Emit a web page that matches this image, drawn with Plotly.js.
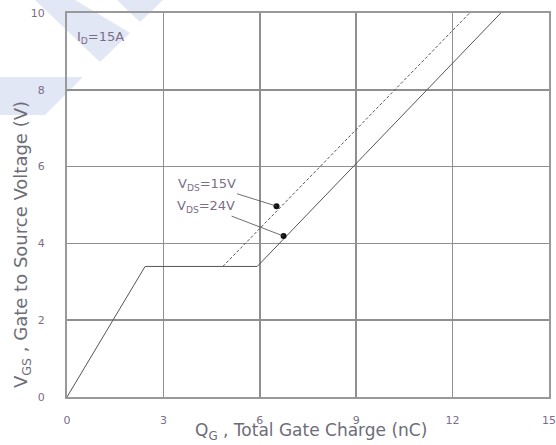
<!DOCTYPE html>
<html><head><meta charset="utf-8">
<script src="https://cdn.plot.ly/plotly-3.0.1.min.js"></script>
<style>html,body{margin:0;padding:0;background:#fff}</style>
</head><body>
<div id="chart" style="width:556px;height:445px"></div>
<script>
// Gate charge curves (Q in nC, V in volts)
const qBase = [0, 2.43, 5.92, 13.5];   // VDS = 24V full curve
const vBase = [0, 3.4, 3.4, 10];
const q15 = [4.85, 12.53];             // VDS = 15V rising branch
const v15 = [3.4, 10];
const dotQ = [6.52, 6.74];
const dotV = [4.97, 4.19];
const dotLabels = ['V<sub>DS</sub>=15V', 'V<sub>DS</sub>=24V'];
const xTicks = [0, 3, 6, 9, 12, 15];
const yTicks = [0, 2, 4, 6, 8, 10];
const xTitle = 'Q<sub>G</sub> , Total Gate Charge (nC)';
const yTitle = 'V<sub>GS</sub> , Gate to Source Voltage (V)';

const txtColor = '#7a6e88';
const lineColor = '#4a4a4a';
const gridColor = '#8f8f8f';
const fam = 'DejaVu Sans, Liberation Sans, sans-serif';

const traces = [
  {x: qBase, y: vBase, mode: 'lines', line: {color: '#555', width: 1}, hoverinfo: 'skip'},
  {x: q15, y: v15, mode: 'lines', line: {color: '#555', width: 1, dash: '3px,2px'}, hoverinfo: 'skip'},
  {x: dotQ, y: dotV, mode: 'markers', marker: {color: '#111', size: 6}, hoverinfo: 'skip'}
];

function px2paper(px, py) { return [(px - 67) / 482, (397 - py) / 384]; }
function poly(pts) {
  return pts.map((p, i) => { const c = px2paper(p[0], p[1]); return (i ? 'L' : 'M') + c[0].toFixed(4) + ',' + c[1].toFixed(4); }).join(' ') + ' Z';
}
const wm = '#e2e7f6';
const shapes = [
  {type: 'path', xref: 'paper', yref: 'paper', layer: 'below', fillcolor: wm, line: {width: 0},
   path: poly([[35,0],[75,0],[130,33],[100,62]])},
  {type: 'path', xref: 'paper', yref: 'paper', layer: 'below', fillcolor: wm, line: {width: 0},
   path: poly([[117,0],[163,0],[140,22]])},
  {type: 'path', xref: 'paper', yref: 'paper', layer: 'below', fillcolor: wm, line: {width: 0},
   path: poly([[0,77],[83,77],[45,115],[0,115]])}
];

const annOffsets = [[-70, -22], [-78, -30]];
const annotations = dotQ.map((q, i) => ({
  x: q, y: dotV[i], xref: 'x', yref: 'y', text: dotLabels[i],
  showarrow: true, arrowhead: 0, arrowwidth: 0.8, arrowcolor: lineColor, standoff: 0,
  ax: annOffsets[i][0], ay: annOffsets[i][1],
  font: {family: fam, size: 13, color: txtColor}
}));
annotations.push({
  xref: 'paper', yref: 'paper', x: 0.0166, y: 0.935, xanchor: 'left', yanchor: 'middle',
  text: 'I<sub>D</sub>=15A', showarrow: false,
  font: {family: fam, size: 13, color: txtColor}
});
// axis titles placed as in the reference
const c1 = px2paper(311, 431), c2 = px2paper(22, 245);
annotations.push({
  xref: 'paper', yref: 'paper', x: c1[0], y: c1[1], xanchor: 'center', yanchor: 'middle',
  text: xTitle, showarrow: false, font: {family: fam, size: 17, color: '#6d6d78'}
});
annotations.push({
  xref: 'paper', yref: 'paper', x: c2[0], y: c2[1], xanchor: 'center', yanchor: 'middle',
  text: yTitle, textangle: -90, showarrow: false, font: {family: fam, size: 18, color: '#6d6d78'}
});

const layout = {
  width: 556, height: 445,
  margin: {l: 67, r: 7, t: 13, b: 48},
  paper_bgcolor: 'rgba(0,0,0,0)', plot_bgcolor: 'rgba(0,0,0,0)',
  showlegend: false,
  font: {family: fam, color: txtColor},
  xaxis: {
    range: [0, 15], tickvals: xTicks, ticktext: xTicks.map(String),
    showgrid: true, gridcolor: gridColor, gridwidth: 1.5,
    showline: true, linecolor: '#999', linewidth: 2, mirror: true,
    zeroline: false, ticks: '', ticklabelstandoff: 12,
    tickfont: {size: 11, color: txtColor}
  },
  yaxis: {
    range: [0, 10], tickvals: yTicks, ticktext: yTicks.map(String),
    showgrid: true, gridcolor: gridColor, gridwidth: 1.5,
    showline: true, linecolor: '#999', linewidth: 2, mirror: true,
    zeroline: false, ticks: '', ticklabelstandoff: 18,
    tickfont: {size: 11, color: txtColor}
  },
  shapes: shapes,
  annotations: annotations
};

Plotly.newPlot('chart', traces, layout, {displayModeBar: false, staticPlot: true});
</script>
</body></html>
